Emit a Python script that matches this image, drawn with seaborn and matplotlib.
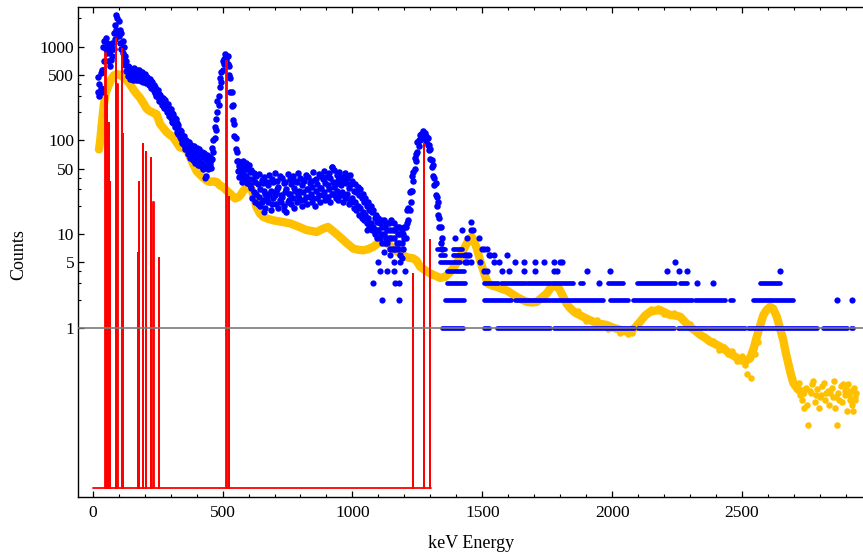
import numpy as np
import pandas as pd
import matplotlib
matplotlib.use("Agg")
import matplotlib.pyplot as plt
import seaborn as sns
from matplotlib.ticker import FixedLocator, FixedFormatter, NullFormatter, MultipleLocator

# ---------------- data ----------------
# dense part of the measured spectrum: four values per energy spanning the scatter band
# (v1, v3 read at blue_energy_a; v2, v4 read at blue_energy_b)
blue_energy_a = list(range(20, 1341, 10))
blue_energy_b = list(range(25, 1346, 10))
blue_v1 = [480, 520, 1000, 1250, 1000, 1000, 1400, 2200, 1900, 1400, 1000, 700, 610, 570, 590, 570, 560, 530, 510, 480,
           455, 420, 375, 345, 305, 285, 270, 245, 215, 190, 170, 145, 126, 112, 102, 96, 90, 86, 83, 80,
           76, 73, 70, 67, 82, 140, 260, 460, 700, 830, 790, 460, 240, 105, 60, 56, 60, 58, 55, 48,
           45, 42,
           44, 38, 41, 36, 43, 39, 45, 37, 42, 40, 36, 44, 39, 42, 37, 45, 40, 38, 43, 41,
           37, 46, 39, 44, 42, 47, 41, 45, 52, 48, 43, 46, 41, 45, 40, 43, 37,
           34, 32, 30, 27, 24, 22, 20, 18, 16, 15, 14, 14, 13, 13, 14, 13, 12, 12, 11, 12,
           18, 28, 42, 65, 95, 115, 125, 120, 105, 80, 55, 35, 22, 12]
blue_v2 = [400, 560, 1150, 1100, 900, 1100, 1700, 2000, 1500, 1150, 800, 620, 560, 530, 540, 520, 510, 490, 470, 450,
           425, 390, 345, 315, 285, 260, 245, 220, 195, 172, 155, 130, 114, 100, 90, 84, 80, 75, 72, 70,
           66, 63, 62, 61, 100, 170, 300, 540, 740, 800, 620, 330, 150, 75, 53, 49, 52, 50, 46, 39,
           36, 34,
           30, 35, 27, 33, 29, 36, 28, 32, 26, 35, 30, 27, 34, 31, 36, 29, 33, 37, 30, 35,
           32, 38, 34, 31, 39, 35, 33, 40, 36, 34, 38, 33, 37, 35, 31, 34, 29,
           28, 26, 24, 22, 20, 18, 17, 15, 13.5, 13, 12, 12, 11, 11, 11, 11, 10, 10, 10, 12,
           19, 29, 46, 72, 100, 118, 120, 110, 90, 62, 40, 25, 15, 9]
blue_v3 = [330, 360, 560, 950, 700, 720, 950, 1500, 1300, 950, 720, 550, 500, 480, 490, 480, 470, 450, 440, 420,
           395, 360, 320, 290, 260, 240, 220, 200, 175, 155, 138, 118, 104, 90, 80, 74, 70, 65, 63, 60,
           57, 54, 55, 56, 63, 105, 200, 370, 570, 750, 660, 330, 165, 80, 47, 42, 45, 42, 39, 31,
           28, 27,
           25, 22, 29, 24, 27, 21, 26, 30, 23, 25, 28, 22, 27, 24, 29, 26, 23, 28, 25, 30,
           27, 24, 29, 26, 31, 28, 25, 30, 27, 32, 29, 26, 28, 25, 27, 23, 24,
           22, 20, 19, 17, 16, 15, 13, 12, 11, 11, 10, 10, 9, 9, 9, 9, 8, 8, 8, 9,
           13, 18, 29, 49, 76, 100, 110, 105, 89, 63, 42, 26, 16, 8]
blue_v4 = [300, 330, 700, 850, 620, 800, 1200, 1400, 1100, 850, 640, 490, 450, 440, 440, 440, 430, 415, 405, 390,
           365, 335, 295, 265, 240, 220, 200, 180, 158, 140, 124, 108, 94, 80, 71, 65, 62, 57, 55, 53,
           49, 42, 49, 51, 75, 130, 240, 420, 650, 720, 500, 230, 110, 60, 41, 36, 38, 35, 33, 24,
           22, 21,
           20, 23, 19, 22, 18, 24, 21, 19, 22, 20, 17, 23, 21, 19, 22, 24, 20, 23, 21, 25,
           22, 20, 24, 22, 26, 23, 25, 22, 27, 24, 23, 26, 22, 24, 21, 22, 19,
           18, 16, 15, 14, 13, 12, 11, 10, 9, 9, 8, 8, 8, 7, 7, 7, 7, 6, 7, 9,
           14, 22, 37, 60, 88, 105, 108, 98, 78, 52, 33, 20, 12, 7]

# low-count region: single channels at integer count levels (plus a few stray channels)
blue_single_energy = [1078, 1165, 1178, 1114, 1180, 1107, 1133, 1160, 1203, 1100, 1160, 1185,
                      1456, 1421, 1456, 1466, 1396, 1441, 1486, 1498, 1505, 1518,
                      1434, 1441, 1447, 1524, 1530, 1544, 1595,
                      1434, 1441, 1456, 1492, 1544, 1563, 1627, 1659, 1704, 1736, 1775, 1807, 1800, 2242,
                      1505, 1518, 1575, 1601, 1659, 1704, 1775, 1788, 1902, 1992, 2210, 2259, 2287, 2647,
                      1950, 2326, 2390, 2866, 2925,
                      660, 735, 1055, 1120, 1145, 1190, 432, 922]
blue_single_counts = [3, 3, 3, 2, 2, 4, 4, 4, 4, 5, 5, 5,
                      13.5, 11, 11, 11, 9, 9, 9, 7, 7, 7,
                      6, 6, 6, 6, 6, 6, 6,
                      5, 5, 5, 5, 5, 5, 5, 5, 5, 5, 5, 5, 5, 5,
                      4, 4, 4, 4, 4, 4, 4, 4, 4, 4, 4, 4, 4, 4,
                      3, 3, 3, 2, 2,
                      17, 18, 11, 6.5, 6, 5.5, 40, 52]
# runs of consecutive channels sharing one count level: (start keV, end keV, counts)
blue_run_start = [1346, 1507, 1556, 1778, 2100, 2252, 2372, 2522, 2812, 2918,
                  1357, 1505, 1625, 1770, 1993, 2081, 2320, 2454, 2543,
                  1364, 1505, 1572, 1672, 1768, 1876, 1985, 2095, 2262, 2570,
                  1364, 1338, 1325, 1389, 1338, 1389]
blue_run_end = [1427, 1527, 1761, 2085, 2240, 2365, 2512, 2790, 2905, 2928,
                1428, 1612, 1760, 1966, 2062, 2307, 2435, 2465, 2697,
                1434, 1560, 1665, 1760, 1851, 1889, 2043, 2242, 2287, 2647,
                1428, 1415, 1357, 1421, 1357, 1421]
blue_run_counts = [1, 1, 1, 1, 1, 1, 1, 1, 1, 1,
                   2, 2, 2, 2, 2, 2, 2, 2, 2,
                   3, 3, 3, 3, 3, 3, 3, 3, 3, 3,
                   4, 5, 7, 7, 6, 6]

# smooth background spectrum
yellow_energy = [24, 28, 35, 42, 50, 60, 70, 80, 92, 105, 118, 131, 145, 156, 170, 182, 195, 208, 220, 233,
                 246, 259, 272, 285, 298, 310, 323, 336, 350, 362, 375, 388, 400, 413, 426, 440, 452, 465, 477, 490,
                 503, 516, 529, 540, 548, 558, 567, 580, 593, 605, 612, 622, 631, 644, 657, 676, 695, 727, 760, 792,
                 824, 843, 862, 884, 906, 930, 952, 978, 1003, 1022, 1042, 1060, 1080, 1100, 1118, 1138, 1157, 1176, 1195, 1215,
                 1234, 1247, 1260, 1280, 1299, 1318, 1338, 1357, 1376, 1395, 1415, 1428, 1440, 1452, 1459, 1468, 1479, 1492, 1504, 1512,
                 1522, 1540, 1556, 1575, 1594, 1614, 1633, 1652, 1671, 1690, 1710, 1730, 1748, 1765, 1780, 1796, 1812, 1825, 1838, 1857,
                 1876, 1902, 1928, 1953, 1979, 2005, 2031, 2050, 2069, 2088, 2108, 2127, 2146, 2165, 2185, 2204, 2223, 2242, 2262, 2281,
                 2300, 2320, 2339, 2358, 2377, 2397, 2416, 2435, 2454, 2474, 2493, 2512, 2531, 2545, 2557, 2570, 2582, 2595, 2608, 2620,
                 2634, 2646, 2659, 2668, 2678, 2688, 2698, 2715, 2736]
yellow_counts = [80, 95, 150, 230, 320, 380, 440, 490, 510, 500, 470, 440, 390, 350, 310, 285, 250, 217, 205, 197,
                 190, 150, 135, 122, 114, 108, 95, 84, 82, 80, 66, 55, 47, 43, 40, 37, 36, 36.5, 36, 33,
                 31.5, 29, 27, 25, 24, 24.5, 25.6, 29, 31.6, 33, 30, 24, 19.3, 16.5, 15.2, 14.5, 14.0, 13.5, 13, 12,
                 11, 10.8, 10.5, 11.3, 11.9, 10.5, 9.3, 8.0, 7.0, 6.8, 6.7, 6.9, 7.3, 8.0, 8.6, 7.8, 7.0, 6.4, 5.9, 5.6,
                 5.5, 5.2, 4.5, 4.1, 3.8, 3.6, 3.4, 3.5, 3.94, 4.6, 5.7, 6.8, 7.9, 9.0, 9.3, 8.5, 7.0, 5.2, 4.1, 3.5,
                 2.96, 2.8, 2.73, 2.6, 2.5, 2.3, 2.13, 2.0, 1.89, 1.86, 1.89, 2.1, 2.32, 2.7, 2.84, 2.6, 2.13, 1.8, 1.62, 1.45,
                 1.36, 1.25, 1.16, 1.1, 1.07, 1.0, 0.95, 0.92, 0.91, 1.0, 1.16, 1.35, 1.48, 1.52, 1.54, 1.45, 1.37, 1.35, 1.31, 1.15,
                 1.02, 0.93, 0.84, 0.78, 0.71, 0.67, 0.63, 0.58, 0.53, 0.49, 0.45, 0.44, 0.47, 0.6, 0.80, 1.05, 1.36, 1.55, 1.67, 1.6,
                 1.31, 1.0, 0.74, 0.55, 0.42, 0.32, 0.256, 0.22, 0.20]
# scattered background channels (noisy parts)
yellow_scatter_energy = [1870, 1900, 1940, 1985, 2030, 2060, 2075, 2150, 2175, 2200, 2240, 2270, 2300, 2330, 2350,
                         2370, 2390, 2410, 2430, 2445, 2460, 2480, 2500, 2510, 2520, 2535, 2550, 2560,
                         2720, 2730, 2745, 2750, 2756, 2765, 2770, 2780, 2790, 2795, 2805, 2810, 2820, 2830,
                         2835, 2845, 2850, 2860, 2866, 2870, 2880, 2885, 2895, 2900, 2905, 2910, 2915, 2920,
                         2925, 2930, 2935, 2940, 2738, 2775, 2815, 2855, 2890, 2928,
                         2725, 2760, 2800, 2840, 2875, 2912, 2742, 2785, 2825, 2862, 2898, 2936]
yellow_scatter_counts = [1.5, 1.18, 1.2, 0.97, 0.88, 0.85, 0.88, 1.6, 1.62, 1.4, 1.45, 1.22, 1.1, 0.95, 0.82,
                         0.75, 0.72, 0.58, 0.62, 0.52, 0.57, 0.44, 0.5, 0.4, 0.32, 0.29, 0.52, 0.7,
                         0.26, 0.17, 0.23, 0.15, 0.092, 0.2, 0.25, 0.16, 0.22, 0.14, 0.19, 0.24, 0.17, 0.21,
                         0.15, 0.23, 0.18, 0.14, 0.092, 0.2, 0.24, 0.16, 0.19, 0.22, 0.13, 0.25, 0.17, 0.21,
                         0.15, 0.23, 0.18, 0.2, 0.14, 0.27, 0.26, 0.27, 0.25, 0.13,
                         0.19, 0.21, 0.18, 0.2, 0.17, 0.19, 0.22, 0.19, 0.2, 0.18, 0.21, 0.17]

# reference gamma lines (energy keV, intensity)
line_energy = [48.5, 54, 61.6, 66.6, 89.7, 94.7, 111, 116, 173, 177.5, 192, 205, 224, 233, 254,
               514, 524, 1232, 1275, 1299]
line_intensity = [850, 300, 152, 36, 1216, 400, 955, 117, 6.3, 36, 91, 76, 65, 22, 5.5,
                  705, 24.6, 3.7, 92, 8.7]
line_base = 0.0195
line_start, line_end = 0, 1301

ytick_values = [1, 5, 10, 50, 100, 500, 1000]
ytick_labels = ["1", "5", "10", "50", "100", "500", "1000"]
yminor_values = [2, 3, 4, 20, 30, 40, 200, 300, 400, 2000]
xtick_values = [0, 500, 1000, 1500, 2000, 2500]
xtick_labels = ["0", "500", "1000", "1500", "2000", "2500"]

# ---------------- plot ----------------
sns.set_theme(style="white")
plt.rcParams['font.family'] = ['Liberation Serif', 'DejaVu Serif']

BLUE = "#0000FF"
GOLD = "#FFC000"
RED = "#FF0000"

fig = plt.figure(figsize=(8.63, 5.56), dpi=100)
ax = fig.add_axes([78.3 / 863, 1 - 497 / 556, 1 - 78.3 / 863, (497 - 7) / 556])

# background (gold)
sns.lineplot(x=yellow_energy, y=yellow_counts, sort=False, estimator=None, color=GOLD,
             lw=6.0, ax=ax, zorder=2, solid_capstyle="round", solid_joinstyle="round")
sns.scatterplot(x=yellow_scatter_energy, y=yellow_scatter_counts, color=GOLD, s=22,
                linewidth=0, ax=ax, zorder=2)

# measured spectrum (blue)
cloud = pd.DataFrame({
    "keV": blue_energy_a + blue_energy_b + blue_energy_a + blue_energy_b,
    "counts": blue_v1 + blue_v2 + blue_v3 + blue_v4,
})
sns.scatterplot(data=cloud, x="keV", y="counts", color=BLUE, s=22, linewidth=0, ax=ax, zorder=3)
sns.scatterplot(x=blue_single_energy, y=blue_single_counts, color=BLUE, s=20, linewidth=0, ax=ax, zorder=3)
runs = ax.hlines(blue_run_counts, blue_run_start, blue_run_end, colors=BLUE, lw=3.4, zorder=3)
runs.set_capstyle("round")

# reference lines (red sticks on a baseline)
px, py = [line_start], [line_base]
for e, h in sorted(zip(line_energy, line_intensity)):
    px += [e, e, e + 1.5, e + 1.5]
    py += [line_base, h, h, line_base]
px.append(line_end)
py.append(line_base)
ax.plot(px, py, color=RED, lw=1.3, zorder=4)

ax.axhline(1, color="#7a7a7a", lw=1.2, zorder=5)

ax.set_yscale("log")
ax.set_xlim(-55.6, 2966)
ax.set_ylim(0.0156, 2650)

ax.yaxis.set_major_locator(FixedLocator(ytick_values))
ax.yaxis.set_major_formatter(FixedFormatter(ytick_labels))
ax.yaxis.set_minor_locator(FixedLocator(yminor_values))
ax.yaxis.set_minor_formatter(NullFormatter())
ax.xaxis.set_major_locator(FixedLocator(xtick_values))
ax.xaxis.set_major_formatter(FixedFormatter(xtick_labels))
ax.xaxis.set_minor_locator(MultipleLocator(100))

ax.tick_params(axis="both", which="both", direction="in", colors="black", labelsize=12.5)
ax.tick_params(axis="x", which="both", top=True, bottom=True, pad=6)
ax.tick_params(axis="y", which="both", left=True, right=False, pad=3)
ax.tick_params(which="major", length=4.5, width=0.9)
ax.tick_params(which="minor", length=2.5, width=0.8)

for side in ["left", "bottom", "top"]:
    ax.spines[side].set_color("black")
    ax.spines[side].set_linewidth(1.0)
ax.spines["right"].set_visible(False)

ax.set_xlabel("keV Energy", fontsize=13, color="black")
ax.set_ylabel("Counts", fontsize=13, color="black")
ax.xaxis.set_label_coords(0.5, -0.077)
ax.yaxis.set_label_coords(-0.065, 0.494)
ax.grid(False)

fig.savefig("out.png", dpi=100)
